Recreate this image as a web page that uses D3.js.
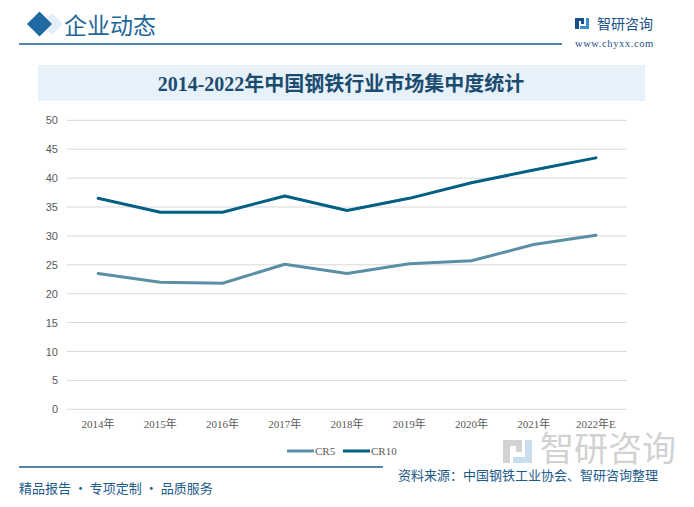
<!DOCTYPE html>
<html><head><meta charset="utf-8">
<script src="https://cdn.jsdelivr.net/npm/d3@7/dist/d3.min.js"></script>
<style>body{margin:0;background:#fff}svg{display:block}</style>
</head><body><svg id="c" width="694" height="507"></svg>
<script>
const years = ["2014年","2015年","2016年","2017年","2018年","2019年","2020年","2021年","2022年E"];
const cr5 = [23.5, 22.0, 21.8, 25.1, 23.5, 25.2, 25.7, 28.5, 30.1];
const cr10 = [36.5, 34.1, 34.1, 36.9, 34.4, 36.5, 39.2, 41.4, 43.5];
const yTicks = [0,5,10,15,20,25,30,35,40,45,50];
const seriesNames = ["CR5","CR10"];
const colors = ["#5b8fa5","#035f84"];

const svg = d3.select("#c");
const CJK = "'Noto Sans CJK SC', sans-serif";
const SER = "'Liberation Serif', 'Noto Sans CJK SC', serif";

// header
svg.append("path").attr("d","M52,13 L63,24 L52,35 L41,24 Z").attr("fill","#dbe8f3").attr("opacity",0.7);
svg.append("path").attr("d","M39.5,11.5 L52,24 L39.5,36.5 L27,24 Z").attr("fill","#1f6aa0");
svg.append("text").attr("x",64).attr("y",34).attr("font-family",CJK).attr("font-size",23).attr("fill","#1f6797").text("企业动态");
svg.append("line").attr("x1",19).attr("x2",562).attr("y1",44).attr("y2",44).attr("stroke","#1a5f8e").attr("stroke-width",1.5);
// logo
const lg = svg.append("g").attr("fill","#1a4f8a");
lg.append("rect").attr("x",575).attr("y",18).attr("width",4).attr("height",11);
lg.append("rect").attr("x",575).attr("y",18).attr("width",9).attr("height",3);
lg.append("rect").attr("x",581).attr("y",18).attr("width",3).attr("height",6);
lg.append("rect").attr("x",586).attr("y",18).attr("width",3).attr("height",11).attr("fill","#3a8fd0");
lg.append("rect").attr("x",580).attr("y",26).attr("width",9).attr("height",3).attr("fill","#3a8fd0");
svg.append("text").attr("x",597).attr("y",29).attr("font-family",CJK).attr("font-size",14).attr("fill","#1a4f8a").text("智研咨询");
svg.append("text").attr("x",575).attr("y",47).attr("font-family",SER).attr("font-size",10.5).attr("letter-spacing",0.6).attr("fill","#1a4f8a").text("www.chyxx.com");

// title box
svg.append("rect").attr("x",38).attr("y",65).attr("width",607).attr("height",36).attr("fill","#e6f1fa");
svg.append("text").attr("x",341).attr("y",91).attr("text-anchor","middle").attr("font-family",SER)
  .attr("font-size",20).attr("font-weight","bold").attr("fill","#1c4b70").text("2014-2022年中国钢铁行业市场集中度统计");

// chart
const x = d3.scaleBand().domain(years).range([67,627]);
const y = d3.scaleLinear().domain([0,50]).range([409.3,120.3]);
const grid = svg.append("g");
grid.selectAll("line").data(yTicks).join("line")
  .attr("x1",67).attr("x2",627).attr("y1",d=>y(d)).attr("y2",d=>y(d)).attr("stroke","#d9d9d9").attr("stroke-width",1);
const yAxis = svg.append("g").attr("transform","translate(58,0)")
  .call(d3.axisLeft(y).tickValues(yTicks).tickSize(0).tickPadding(0));
yAxis.select(".domain").remove();
yAxis.selectAll("text").attr("font-family","Liberation Sans, sans-serif").attr("font-size",11).attr("fill","#595959");
const xAxis = svg.append("g").attr("transform","translate(0,409.3)")
  .call(d3.axisBottom(x).tickSize(0).tickPadding(11));
xAxis.select(".domain").remove();
xAxis.selectAll("text").attr("font-family",SER).attr("font-size",11).attr("fill","#595959");

const line = d3.line().x((d,i)=>x(years[i])+x.bandwidth()/2).y(d=>y(d)).curve(d3.curveLinear);
[cr5,cr10].forEach((s,i)=>{
  svg.append("path").datum(s).attr("d",line).attr("fill","none").attr("stroke",colors[i]).attr("stroke-width",3).attr("stroke-linejoin","round").attr("stroke-linecap","round");
});

// legend
const legX = [287,343];
seriesNames.forEach((n,i)=>{
  svg.append("line").attr("x1",legX[i]).attr("x2",legX[i]+27).attr("y1",451).attr("y2",451).attr("stroke",colors[i]).attr("stroke-width",3);
  svg.append("text").attr("x",legX[i]+28).attr("y",455).attr("font-family",SER).attr("font-size",11).attr("fill","#595959").text(n);
});

// bottom-right watermark
svg.append("text").attr("x",540).attr("y",461).attr("font-family",CJK).attr("font-size",34).attr("fill","#c4c4c4").attr("opacity",0.75).text("智研咨询");
const bl = svg.append("g").attr("fill","#c4c4c4").attr("opacity",0.75);
bl.append("rect").attr("x",503).attr("y",440).attr("width",7).attr("height",23);
bl.append("rect").attr("x",503).attr("y",440).attr("width",19).attr("height",6);
bl.append("rect").attr("x",516).attr("y",440).attr("width",6).attr("height",12);
bl.append("rect").attr("x",525).attr("y",440).attr("width",7).attr("height",23).attr("fill","#b8d4ea");
bl.append("rect").attr("x",513).attr("y",457).attr("width",19).attr("height",6).attr("fill","#b8d4ea");

// footer
svg.append("line").attr("x1",19).attr("x2",383).attr("y1",467).attr("y2",467).attr("stroke","#1a5f8e").attr("stroke-width",1.5);
svg.append("text").attr("x",19).attr("y",493).attr("font-family",CJK).attr("font-size",13).attr("fill","#1c5a8a").text("精品报告 · 专项定制 · 品质服务");
svg.append("text").attr("x",398).attr("y",480).attr("font-family",CJK).attr("font-size",13).attr("fill","#1c5a8a").text("资料来源：中国钢铁工业协会、智研咨询整理");
</script></body></html>
